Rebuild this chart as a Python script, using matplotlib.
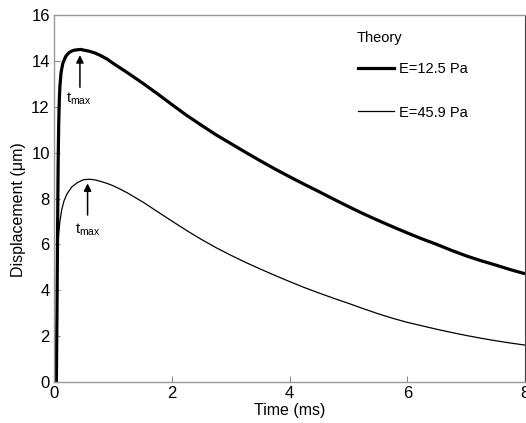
import matplotlib
matplotlib.use('Agg')
import matplotlib.pyplot as plt
from matplotlib.lines import Line2D

plt.rcParams['font.family'] = ['Liberation Sans', 'DejaVu Sans']
plt.rcParams['mathtext.fontset'] = 'custom'
plt.rcParams['mathtext.rm'] = 'Liberation Sans'
plt.rcParams['mathtext.it'] = 'Liberation Sans'

# ── Data (time in ms, displacement in um) ─────────────────────────────────────
t_soft = [0.04, 0.05, 0.06, 0.07, 0.08, 0.09, 0.1, 0.12, 0.15, 0.2, 0.25,
          0.3, 0.35, 0.45, 0.6, 0.7, 0.8, 0.9, 1.0, 1.25, 1.5, 1.75, 2.0,
          2.25, 2.5, 2.75, 3.0, 3.25, 3.5, 3.75, 4.0, 4.25, 4.5, 4.75, 5.0,
          5.25, 5.5, 5.75, 6.0, 6.25, 6.5, 6.75, 7.0, 7.25, 7.5, 7.75, 8.0]
d_soft = [0.0, 3.0, 6.5, 9.5, 11.3, 12.3, 12.9, 13.5, 13.9, 14.2, 14.35,
          14.43, 14.47, 14.5, 14.42, 14.34, 14.22, 14.08, 13.9, 13.48, 13.04,
          12.58, 12.1, 11.63, 11.2, 10.78, 10.4, 10.02, 9.65, 9.29, 8.95,
          8.62, 8.3, 7.97, 7.65, 7.34, 7.05, 6.77, 6.5, 6.24, 6.0, 5.74, 5.5,
          5.29, 5.1, 4.9, 4.72]

t_stiff = [0.03, 0.04, 0.05, 0.06, 0.07, 0.08, 0.1, 0.13, 0.17, 0.22, 0.3,
           0.4, 0.5, 0.6, 0.7, 0.8, 0.9, 1.0, 1.1, 1.25, 1.5, 1.75, 2.0,
           2.25, 2.5, 2.75, 3.0, 3.25, 3.5, 3.75, 4.0, 4.25, 4.5, 4.75, 5.0,
           5.25, 5.5, 5.75, 6.0, 6.25, 6.5, 6.75, 7.0, 7.25, 7.5, 7.75, 8.0]
d_stiff = [0.0, 2.0, 4.0, 5.3, 6.0, 6.5, 7.0, 7.5, 7.9, 8.2, 8.5,
           8.7, 8.82, 8.84, 8.81, 8.74, 8.66, 8.56, 8.44, 8.24, 7.86, 7.44,
           7.02, 6.61, 6.22, 5.86, 5.53, 5.22, 4.93, 4.65, 4.38, 4.12, 3.88,
           3.65, 3.43, 3.2, 2.98, 2.78, 2.6, 2.45, 2.3, 2.16, 2.03, 1.91, 1.8,
           1.7, 1.61]

labels = ['E=12.5 Pa', 'E=45.9 Pa']

# t_max markers: (arrow x, arrow tip y, arrow tail y, label x, label y)
tmax_soft = (0.44, 14.25, 12.85, 0.21, 12.35)
tmax_stiff = (0.57, 8.66, 7.28, 0.36, 6.65)

# ── Figure ────────────────────────────────────────────────────────────────────
fig = plt.figure(figsize=(5.26, 4.23), dpi=100)
ax = fig.add_axes([0.1027, 0.0969, 0.8955, 0.8676])

ax.plot(t_soft, d_soft, color='black', lw=2.3, solid_capstyle='butt')
ax.plot(t_stiff, d_stiff, color='black', lw=0.9)

for xa, tip, tail, xl, yl in (tmax_soft, tmax_stiff):
    ax.annotate('', xy=(xa, tip), xytext=(xa, tail),
                arrowprops=dict(arrowstyle='-|>', color='black', lw=1.1,
                                mutation_scale=11, shrinkA=0, shrinkB=0))
    ax.text(xl, yl, r'$\mathrm{t}_{\mathrm{max}}$', fontsize=10.5,
            ha='left', va='center')

ax.set_xlim(0, 8)
ax.set_ylim(0, 16)
ax.set_xticks([0, 2, 4, 6, 8])
ax.set_yticks(range(0, 17, 2))
ax.tick_params(direction='in', length=4, width=0.8, color='#888888',
               labelsize=12, pad=3)

for side in ('left', 'bottom', 'top'):
    ax.spines[side].set_color('#999999')
    ax.spines[side].set_linewidth(1.0)
ax.spines['right'].set_color('#444444')

ax.set_xlabel('Time (ms)', fontsize=11.5, labelpad=1)
ax.set_ylabel('Displacement (μm)', fontsize=11.5)
ax.yaxis.set_label_coords(-0.06, 0.47)

# legend block: heading text plus two line entries
ax.text(0.643, 0.937, 'Theory', transform=ax.transAxes, fontsize=10.5,
        ha='left', va='center')
handles = [Line2D([], [], color='black', lw=2.3),
           Line2D([], [], color='black', lw=0.9)]
ax.legend(handles, labels, loc='upper left', bbox_to_anchor=(0.645, 0.872),
          frameon=False, fontsize=10.5, handlelength=2.5, handletextpad=0.35,
          labelspacing=2.03, borderpad=0, borderaxespad=0)

fig.savefig('out.png', dpi=100)
